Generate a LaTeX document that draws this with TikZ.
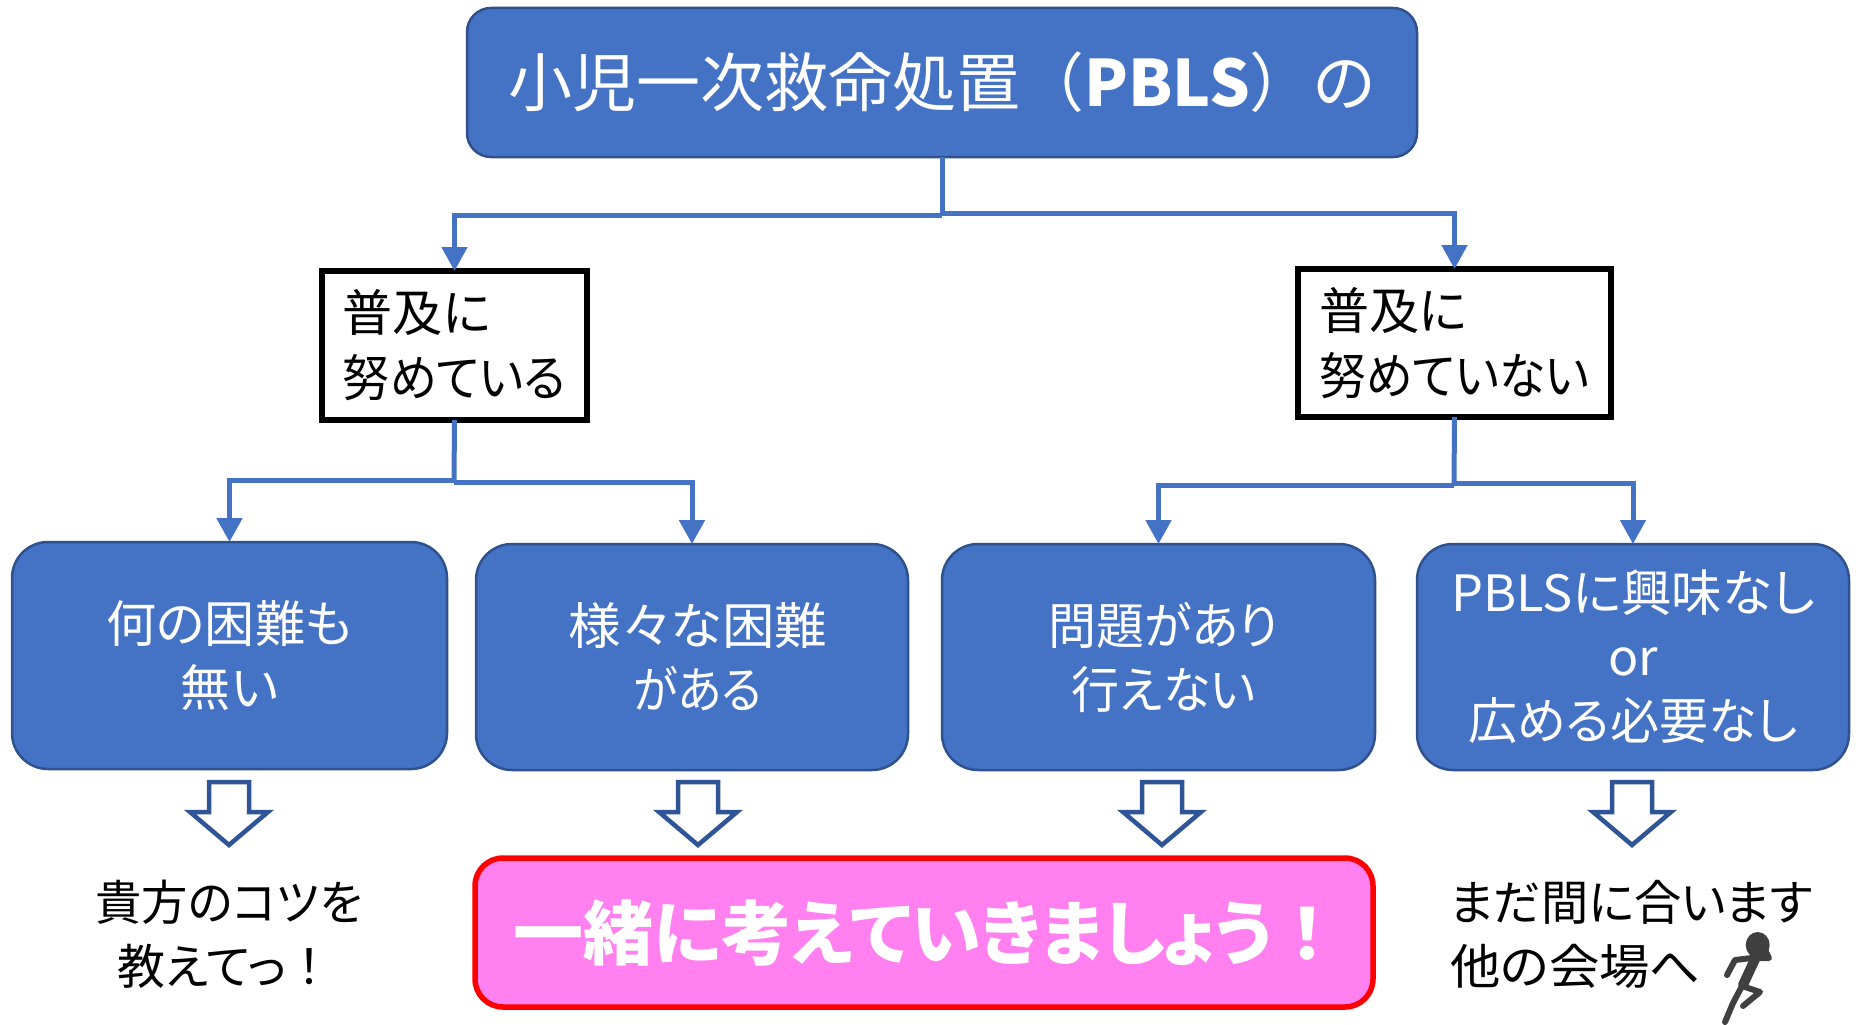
\documentclass[tikz,border=0pt]{standalone}
\usepackage{fontspec}
\usepackage{graphicx}
\usetikzlibrary{arrows.meta}
\setmainfont[RawFeature=+palt]{Noto Sans CJK JP}
\newfontfamily\fullw{Noto Sans CJK JP}
\newcommand{\xs}[2]{\scalebox{#1}[1]{#2}}
\definecolor{bluefill}{HTML}{4472C4}
\definecolor{blueedge}{HTML}{2F528F}
\definecolor{pinkfill}{HTML}{FF80EE}
\definecolor{hollowedge}{HTML}{2F5597}
\definecolor{runner}{HTML}{404040}
\tikzset{
  bluebox/.style={draw=blueedge,fill=bluefill,line width=2.5pt,rounded corners=36pt,text=white,
    inner sep=0pt,outer sep=0pt,align=center,font=\fontsize{50}{64}\selectfont},
  topbox/.style={bluebox,rounded corners=24pt,font=\fontsize{64}{70}\selectfont},
  whitebox/.style={draw=black,fill=white,line width=5.5pt,inner sep=0pt,outer sep=0pt,align=left,
    font=\fontsize{50}{65}\selectfont},
  pinkbox/.style={draw=red,fill=pinkfill,line width=5.5pt,rounded corners=28pt,text=white,
    inner sep=0pt,outer sep=0pt,align=center,font=\fontsize{70}{76}\selectfont\bfseries},
  plaintext/.style={inner sep=0pt,outer sep=0pt,text=black,font=\fontsize{48}{64}\selectfont},
  stem/.style={draw=bluefill,line width=5pt},
  flow/.style={stem,-{Triangle[length=24pt,width=25pt]}},
  hollow/.style={draw=hollowedge,fill=white,line width=4.5pt,miter limit=10},
  runlimb/.style={draw=runner,line width=6pt,line cap=round,line join=round}
}
\newcommand{\hollowdown}[1]{\draw[hollow] (#1-20,782) -- (#1+20,782) -- (#1+20,812) -- (#1+39,812) -- (#1,845) -- (#1-39,812) -- (#1-20,812) -- cycle;}
\begin{document}
\begin{tikzpicture}[x=1pt,y=-1pt]
\useasboundingbox (0,0) rectangle (1858,1025);
\fill[white] (0,0) rectangle (1858,1025);

\node[topbox,minimum width=950pt,minimum height=149pt] (top) at (942,82.5) {\raisebox{-5pt}{小児一次救命処置{\fullw（}\textbf{PBLS}{\fullw）}の}};
\node[whitebox,minimum width=265pt,minimum height=149pt] (lw) at (454.5,345.5) {普及に\\\xs{.94}{努めている}};
\node[whitebox,minimum width=313pt,minimum height=148pt] (rw) at (1454.5,343) {普及に\\\xs{.935}{努めていない}};
\node[bluebox,minimum width=435pt,minimum height=227pt] (b1) at (229.5,655.5) {\xs{1.003}{何の困難も}\\無い};
\node[bluebox,minimum width=432pt,minimum height=226pt] (b2) at (692,657) {\hspace*{12pt}\xs{1.05}{様々な困難}\\\hspace*{12pt}\xs{.9}{がある}};
\node[bluebox,minimum width=433pt,minimum height=226pt] (b3) at (1158.5,657) {\hspace*{10pt}\xs{.96}{問題があり}\\\hspace*{10pt}\xs{.96}{行えない}};
\node[bluebox,minimum width=432pt,minimum height=226pt] (b4) at (1633,657) {\xs{1.01}{PBLSに興味なし}\\or\\\xs{.98}{広める必要なし}};
\node[pinkbox,minimum width=898pt,minimum height=149pt] (pink) at (924,932.5) {\hspace*{8pt}\raisebox{-6pt}{一緒に考えていきましょう{\fullw ！}}};

\node[plaintext,align=center] (t1) at (229,934) {\xs{.965}{貴方のコツを}\\\hspace*{-7pt}教えてっ{\fullw ！}};
\node[plaintext,align=left,anchor=west] (t2) at (1450,934) {\xs{.985}{まだ間に合います}\\\xs{1.05}{他の会場へ}};

\coordinate (tl) at (942,215);
\coordinate (tr) at (942,213);
\coordinate (ll) at (454,480);
\coordinate (lr) at (454,482);
\coordinate (rl) at (1454,485);
\coordinate (rr) at (1454,483);
\draw[stem] (top.south) -- (tl);
\draw[flow] (tl) -| (lw.north);
\draw[flow] (tr) -| (rw.north);
\draw[stem] (lw.south) -- (lr);
\draw[flow] (ll) -| (b1.north);
\draw[flow] (lr) -| (b2.north);
\draw[stem] (rw.south) -- (rl);
\draw[flow] (rl) -| (b3.north);
\draw[flow] (rr) -| (b4.north);

\hollowdown{229}
\hollowdown{698}
\hollowdown{1162}
\hollowdown{1632}

% runner
\draw[runlimb] (1752,958) -- (1735,960) -- (1727,975);
\draw[runlimb] (1752,958) -- (1769,958) -- (1766,952);
\draw[runlimb] (1745,987) -- (1760,992) -- (1743,1006);
\draw[runlimb] (1741,988) -- (1733,1003) -- (1725,1022);
\draw[runlimb,line width=10pt] (1756,957) -- (1743,985);
\fill[runner] (1757.7,945) ellipse [x radius=12,y radius=13];
\end{tikzpicture}
\end{document}
